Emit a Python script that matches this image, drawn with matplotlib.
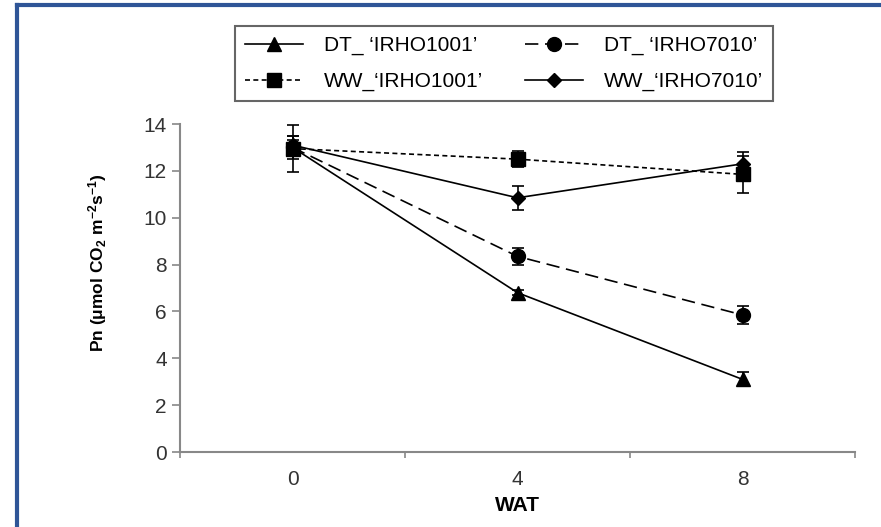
import numpy as np
import matplotlib.pyplot as plt
from matplotlib.lines import Line2D

# Pn over weeks after treatment (WAT)
wat = ['0', '4', '8']
dt_1001 = [13.0, 6.8, 3.1]
dt_1001_err = [0.3, 0.1, 0.3]
dt_7010 = [13.0, 8.35, 5.85]
dt_7010_err = [0.5, 0.35, 0.4]
ww_1001 = [12.95, 12.5, 11.85]
ww_1001_err = [1.0, 0.35, 0.8]
ww_7010 = [13.1, 10.85, 12.3]
ww_7010_err = [0.4, 0.5, 0.5]

plt.rcParams['font.family'] = ['Liberation Sans', 'DejaVu Sans']
plt.rcParams['mathtext.default'] = 'regular'

fig = plt.figure(figsize=(8.81, 5.27), dpi=100)
ax = fig.add_axes([180 / 881, 1 - 452 / 527, 675 / 881, 328 / 527])

x = np.arange(len(wat))
series = [
    (dt_1001, dt_1001_err, '^', 10, '-', 'DT_ \u2018IRHO1001\u2019'),
    (ww_1001, ww_1001_err, 's', 10, (0, (3, 2)), 'WW_\u2018IRHO1001\u2019'),
    (dt_7010, dt_7010_err, 'o', 10, (0, (8, 4)), 'DT_ \u2018IRHO7010\u2019'),
    (ww_7010, ww_7010_err, 'D', 7, '-', 'WW_\u2018IRHO7010\u2019'),
]
handles = []
for y, err, m, ms, ls, lab in series:
    ax.errorbar(x, y, yerr=err, marker=m, ms=ms, ls=ls, color='black', lw=1.2,
                capsize=4, elinewidth=1.2, capthick=1.2, ecolor='black')
    handles.append(Line2D([], [], color='black', lw=1.2, marker=m, ms=ms, ls=ls, label=lab))

ax.set_xlim(-0.5, 2.5)
ax.set_ylim(0, 14)
ax.set_yticks(range(0, 15, 2))
ax.set_xticks(x)
ax.set_xticklabels(wat)
ax.set_xticks([-0.5, 0.5, 1.5, 2.5], minor=True)
ax.tick_params(axis='x', which='major', length=0, labelsize=15, pad=13, colors='#333333')
ax.tick_params(axis='x', which='minor', length=4, color='#888888', width=1.2)
ax.tick_params(axis='y', length=6, color='#888888', width=1.2, labelsize=15, labelcolor='#333333')
for s in ['top', 'right']:
    ax.spines[s].set_visible(False)
for s in ['left', 'bottom']:
    ax.spines[s].set_color('#888888')
    ax.spines[s].set_linewidth(1.5)

ax.set_xlabel('WAT', fontsize=15, fontweight='bold', labelpad=5)
ax.set_ylabel('Pn (\u03bcmol CO$_2$ m$^{-2}$s$^{-1}$)', fontsize=12.5, fontweight='bold')
ax.yaxis.set_label_coords(-0.105, 0.576)

leg = fig.legend(handles=handles, loc='upper left', ncol=2, mode='expand',
                 bbox_to_anchor=(235 / 881, 1 - 26 / 527, 538 / 881, 0),
                 fontsize=15, handlelength=2.8, handletextpad=1.0,
                 fancybox=False, edgecolor='#666666', framealpha=1,
                 borderaxespad=0, borderpad=0.48, labelspacing=0.8)
leg.get_frame().set_linewidth(1.5)

# blue frame around the picture
fig.add_artist(Line2D([17 / 881, 1], [1 - 5 / 527, 1 - 5 / 527], color='#2F5597', lw=3))
fig.add_artist(Line2D([17 / 881, 17 / 881], [0, 1 - 5 / 527], color='#2F5597', lw=3))

fig.savefig('out.png', dpi=100)
